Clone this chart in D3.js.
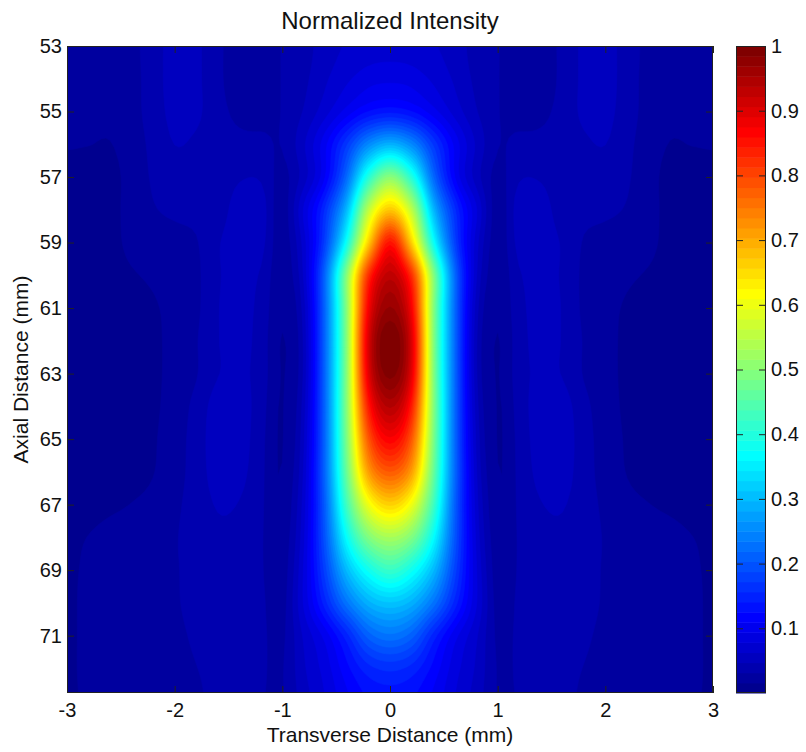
<!DOCTYPE html>
<html><head><meta charset="utf-8">
<script src="https://cdn.jsdelivr.net/npm/d3@7/dist/d3.min.js"></script>
<style>
body{margin:0;background:#fff}
text{font-family:"Liberation Sans",Arial,Helvetica,sans-serif;fill:#111}
</style>
</head><body>
<svg id="chart" width="806" height="752"></svg>
<script>
// ---------------- data ----------------
const xCoords = [-3,-2.8,-2.6,-2.4,-2.2,-2,-1.8,-1.6,-1.4,-1.2,-1,-0.8,-0.6,-0.4,-0.2,0,0.2,0.4,0.6,0.8,1,1.2,1.4,1.6,1.8,2,2.2,2.4,2.6,2.8,3];
const zCoords = [53,54,55,56,57,58,59,60,61,62,63,64,65,66,67,68,69,70,71,72,73];
const intensity = [
 [0.022,0.022,0.023,0.028,0.038,0.055,0.05,0.035,0.022,0.022,0.032,0.04,0.055,0.064,0.07,0.072,0.07,0.064,0.055,0.04,0.032,0.022,0.022,0.035,0.05,0.055,0.038,0.028,0.023,0.022,0.022],
 [0.021,0.021,0.022,0.027,0.038,0.055,0.05,0.035,0.022,0.022,0.032,0.043,0.06,0.075,0.087,0.09,0.087,0.075,0.06,0.043,0.032,0.022,0.022,0.035,0.05,0.055,0.038,0.027,0.022,0.021,0.021],
 [0.02,0.02,0.02,0.026,0.038,0.052,0.05,0.036,0.028,0.026,0.032,0.048,0.072,0.1,0.125,0.135,0.125,0.1,0.072,0.048,0.032,0.026,0.028,0.036,0.05,0.052,0.038,0.026,0.02,0.02,0.02],
 [0.017,0.016,0.015,0.024,0.035,0.047,0.044,0.036,0.035,0.035,0.032,0.06,0.105,0.17,0.25,0.29,0.25,0.17,0.105,0.06,0.032,0.035,0.035,0.036,0.044,0.047,0.035,0.024,0.015,0.016,0.017],
 [0.008,0.008,0.01,0.022,0.033,0.04,0.04,0.036,0.045,0.045,0.026,0.055,0.11,0.22,0.4,0.5,0.4,0.22,0.11,0.055,0.026,0.045,0.045,0.036,0.04,0.04,0.033,0.022,0.01,0.008,0.008],
 [0.008,0.008,0.01,0.022,0.03,0.034,0.036,0.038,0.055,0.055,0.022,0.08,0.16,0.3,0.55,0.67,0.55,0.3,0.16,0.08,0.022,0.055,0.055,0.038,0.036,0.034,0.03,0.022,0.01,0.008,0.008],
 [0.008,0.008,0.01,0.02,0.024,0.026,0.03,0.045,0.056,0.052,0.022,0.07,0.18,0.38,0.66,0.85,0.66,0.38,0.18,0.07,0.022,0.052,0.056,0.045,0.03,0.026,0.024,0.02,0.01,0.008,0.008],
 [0.006,0.006,0.008,0.014,0.018,0.022,0.028,0.045,0.052,0.045,0.02,0.065,0.22,0.5,0.82,0.93,0.82,0.5,0.22,0.065,0.02,0.045,0.052,0.045,0.028,0.022,0.018,0.014,0.008,0.006,0.006],
 [0.006,0.006,0.007,0.01,0.014,0.02,0.028,0.046,0.052,0.042,0.018,0.055,0.22,0.5,0.87,0.97,0.87,0.5,0.22,0.055,0.018,0.042,0.052,0.046,0.028,0.02,0.014,0.01,0.007,0.006,0.006],
 [0.006,0.006,0.007,0.009,0.013,0.02,0.03,0.046,0.052,0.04,0.015,0.05,0.22,0.5,0.9,1.0,0.9,0.5,0.22,0.05,0.015,0.04,0.052,0.046,0.03,0.02,0.013,0.009,0.007,0.006,0.006],
 [0.006,0.006,0.007,0.009,0.013,0.02,0.03,0.046,0.05,0.04,0.015,0.05,0.22,0.5,0.89,0.99,0.89,0.5,0.22,0.05,0.015,0.04,0.05,0.046,0.03,0.02,0.013,0.009,0.007,0.006,0.006],
 [0.006,0.006,0.007,0.008,0.013,0.022,0.036,0.054,0.055,0.038,0.015,0.055,0.22,0.5,0.84,0.94,0.84,0.5,0.22,0.055,0.015,0.038,0.055,0.054,0.036,0.022,0.013,0.008,0.007,0.006,0.006],
 [0.006,0.006,0.007,0.009,0.014,0.024,0.038,0.056,0.055,0.036,0.015,0.06,0.22,0.49,0.78,0.87,0.78,0.49,0.22,0.06,0.015,0.036,0.055,0.056,0.038,0.024,0.014,0.009,0.007,0.006,0.006],
 [0.006,0.006,0.008,0.01,0.015,0.025,0.038,0.054,0.052,0.035,0.016,0.065,0.22,0.47,0.71,0.78,0.71,0.47,0.22,0.065,0.016,0.035,0.052,0.054,0.038,0.025,0.015,0.01,0.008,0.006,0.006],
 [0.008,0.01,0.013,0.016,0.02,0.028,0.038,0.048,0.046,0.034,0.018,0.07,0.21,0.43,0.6,0.66,0.6,0.43,0.21,0.07,0.018,0.034,0.046,0.048,0.038,0.028,0.02,0.016,0.013,0.01,0.008],
 [0.012,0.016,0.02,0.022,0.025,0.03,0.038,0.044,0.042,0.033,0.02,0.075,0.2,0.37,0.49,0.53,0.49,0.37,0.2,0.075,0.02,0.033,0.042,0.044,0.038,0.03,0.025,0.022,0.02,0.016,0.012],
 [0.013,0.018,0.022,0.024,0.026,0.03,0.036,0.042,0.04,0.033,0.022,0.08,0.18,0.3,0.38,0.42,0.38,0.3,0.18,0.08,0.022,0.033,0.04,0.042,0.036,0.03,0.026,0.024,0.022,0.018,0.013],
 [0.013,0.019,0.023,0.025,0.027,0.03,0.035,0.04,0.04,0.034,0.025,0.08,0.15,0.23,0.29,0.31,0.29,0.23,0.15,0.08,0.025,0.034,0.04,0.04,0.035,0.03,0.027,0.025,0.023,0.019,0.013],
 [0.013,0.019,0.023,0.025,0.027,0.029,0.033,0.038,0.038,0.034,0.028,0.065,0.1,0.15,0.21,0.23,0.21,0.15,0.1,0.065,0.028,0.034,0.038,0.038,0.033,0.029,0.027,0.025,0.023,0.019,0.013],
 [0.013,0.019,0.022,0.024,0.026,0.028,0.031,0.034,0.035,0.033,0.03,0.06,0.085,0.12,0.15,0.16,0.15,0.12,0.085,0.06,0.03,0.033,0.035,0.034,0.031,0.028,0.026,0.024,0.022,0.019,0.013],
 [0.013,0.018,0.021,0.023,0.025,0.027,0.03,0.033,0.034,0.032,0.03,0.055,0.078,0.105,0.125,0.13,0.125,0.105,0.078,0.055,0.03,0.032,0.034,0.033,0.03,0.027,0.025,0.023,0.021,0.018,0.013]
];
const xTicks = [-3,-2,-1,0,1,2,3];
const xTickLabels = ["-3","-2","-1","0","1","2","3"];
const yTicks = [53,55,57,59,61,63,65,67,69,71];
const cbTicks = [0.1,0.2,0.3,0.4,0.5,0.6,0.7,0.8,0.9,1];
const cbTickLabels = ["0.1","0.2","0.3","0.4","0.5","0.6","0.7","0.8","0.9","1"];
const xDomain = [-3,3];
const zDomain = [53,72.75];
const nColors = 64;

// ---------------- layout ----------------
const svg = d3.select("#chart");
const P = {l:67, r:713, t:46, b:693};
const CB = {l:736, r:766};
const x = d3.scaleLinear().domain(xDomain).range([P.l,P.r]);
const y = d3.scaleLinear().domain(zDomain).range([P.t,P.b]);
const c = d3.scaleLinear().domain([0,1]).range([P.b,P.t]);

// MATLAB-style jet(64)
function jet(i){
  const r = i+1;
  const u = k => (k<1||k>47) ? 0 : (k<=16 ? k/16 : (k<=31 ? 1 : (48-k)/16));
  return d3.rgb(Math.round(u(r-24)*255), Math.round(u(r-8)*255), Math.round(u(r+8)*255)).toString();
}

// ---------------- smooth (bicubic) shading of the sampled grid ----------------
const nx = xCoords.length, nz = zCoords.length, F = 5;
function cr(p0,p1,p2,p3,t){
  return 0.5*(2*p1 + (-p0+p2)*t + (2*p0-5*p1+4*p2-p3)*t*t + (-p0+3*p1-3*p2+p3)*t*t*t);
}
function resample(arr, f){
  const n = arr.length, out = [];
  for (let k=0;k<=(n-1)*f;k++){
    const i = Math.min(Math.floor(k/f), n-2), t = k/f - i;
    const g = j => arr[Math.max(0,Math.min(n-1,j))];
    out.push(cr(g(i-1),g(i),g(i+1),g(i+2),t));
  }
  return out;
}
const rowsFine = intensity.map(r => resample(r, F));
const mx = rowsFine[0].length;
const colsFine = d3.range(mx).map(i => resample(rowsFine.map(r => r[i]), F));
const mz = colsFine[0].length;
const values = new Array(mx*mz);
for (let j=0;j<mz;j++) for (let i=0;i<mx;i++) values[j*mx+i] = Math.max(0, Math.min(1, colsFine[i][j]));

svg.append("defs").append("clipPath").attr("id","plotclip")
  .append("rect").attr("x",P.l).attr("y",P.t).attr("width",P.r-P.l).attr("height",P.b-P.t);

const thresholds = d3.range(nColors).map(k => k/nColors);
const contours = d3.contours().size([mx,mz]).thresholds(thresholds)(values);
const dxs = (xCoords[1]-xCoords[0])/F, dzs = (zCoords[1]-zCoords[0])/F;
const proj = d3.geoTransform({point(px,py){
  this.stream.point(x(xCoords[0]+(px-0.5)*dxs), y(zCoords[0]+(py-0.5)*dzs));
}});
const path = d3.geoPath(proj);
svg.append("g").attr("clip-path","url(#plotclip)")
  .selectAll("path").data(contours).join("path")
  .attr("d", path)
  .attr("fill", (d,i) => jet(i))
  .attr("stroke", (d,i) => jet(i))
  .attr("stroke-width", 0.6);

// ---------------- axes ----------------
const tl = 7;
const ax = svg.append("g").attr("transform",`translate(0,${P.b})`)
  .call(d3.axisBottom(x).tickValues(xTicks).tickSize(-tl).tickPadding(10).tickFormat((d,i)=>xTickLabels[i]));
const axTop = svg.append("g").attr("transform",`translate(0,${P.t})`)
  .call(d3.axisTop(x).tickValues(xTicks).tickSize(-tl).tickFormat(""));
const ay = svg.append("g").attr("transform",`translate(${P.l},0)`)
  .call(d3.axisLeft(y).tickValues(yTicks).tickSize(-tl).tickPadding(5).tickFormat(d=>String(d)));
const ayR = svg.append("g").attr("transform",`translate(${P.r},0)`)
  .call(d3.axisRight(y).tickValues(yTicks).tickSize(-tl).tickFormat(""));
[ax,axTop,ay,ayR].forEach(g=>{
  g.select(".domain").remove();
  g.selectAll(".tick line").attr("stroke","#222").attr("stroke-width",1);
  g.selectAll(".tick text").style("font-size","20px").style("font-family","'Liberation Sans',Arial,sans-serif").attr("fill","#111");
});
svg.append("rect").attr("x",P.l+0.5).attr("y",P.t+0.5).attr("width",P.r-P.l-1).attr("height",P.b-P.t-1)
  .attr("fill","none").attr("stroke","#222").attr("stroke-width",1);

// ---------------- colorbar ----------------
const cb = svg.append("g");
cb.selectAll("rect.band").data(d3.range(nColors)).join("rect").attr("class","band")
  .attr("x",CB.l).attr("width",CB.r-CB.l)
  .attr("y", i => c((i+1)/nColors))
  .attr("height", i => c(i/nColors)-c((i+1)/nColors)+0.5)
  .attr("fill", i => jet(i));
const cbAxis = svg.append("g").attr("transform",`translate(${CB.r},0)`)
  .call(d3.axisRight(c).tickValues(cbTicks).tickSize(-tl).tickPadding(5).tickFormat((d,i)=>cbTickLabels[i]));
const cbAxisL = svg.append("g").attr("transform",`translate(${CB.l},0)`)
  .call(d3.axisLeft(c).tickValues(cbTicks).tickSize(-tl).tickFormat(""));
[cbAxis,cbAxisL].forEach(g=>{
  g.select(".domain").remove();
  g.selectAll(".tick line").attr("stroke","#222");
  g.selectAll(".tick text").style("font-size","20px").style("font-family","'Liberation Sans',Arial,sans-serif").attr("fill","#111");
});
svg.append("rect").attr("x",CB.l+0.5).attr("y",P.t+0.5).attr("width",CB.r-CB.l-1).attr("height",P.b-P.t-1)
  .attr("fill","none").attr("stroke","#222").attr("stroke-width",1);

// ---------------- labels ----------------
svg.append("text").attr("x",(P.l+P.r)/2).attr("y",29).attr("text-anchor","middle")
  .style("font-size","24px").text("Normalized Intensity");
svg.append("text").attr("x",(P.l+P.r)/2).attr("y",742).attr("text-anchor","middle")
  .style("font-size","21px").text("Transverse Distance (mm)");
svg.append("text").attr("transform",`translate(28,${(P.t+P.b)/2}) rotate(-90)`).attr("text-anchor","middle")
  .style("font-size","21px").text("Axial Distance (mm)");
</script>
</body></html>
